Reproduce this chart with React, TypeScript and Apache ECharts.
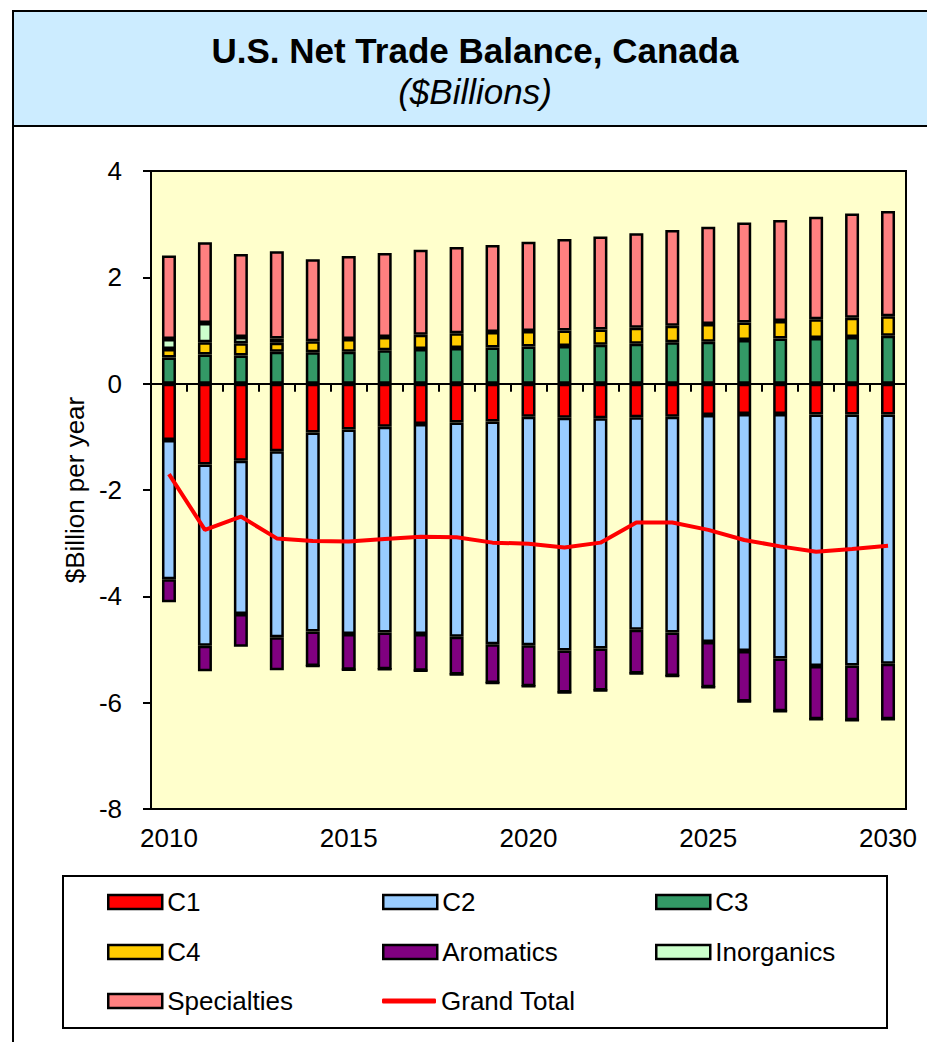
import React, { useEffect, useRef } from "react";
import * as echarts from "echarts";

const years = [
  "2010", "2011", "2012", "2013", "2014", "2015", "2016", "2017", "2018", "2019", "2020",
  "2021", "2022", "2023", "2024", "2025", "2026", "2027", "2028", "2029", "2030",
];

const c1 = [-1.06, -1.52, -1.45, -1.27, -0.92, -0.86, -0.81, -0.76, -0.73, -0.71, -0.62, -0.64, -0.65, -0.63, -0.62, -0.59, -0.57, -0.57, -0.58, -0.58, -0.58];
const c2 = [-2.62, -3.41, -2.88, -3.5, -3.74, -3.85, -3.87, -3.95, -4.03, -4.19, -4.3, -4.38, -4.33, -4.0, -4.06, -4.27, -4.46, -4.6, -4.73, -4.72, -4.69];
const c3 = [0.49, 0.55, 0.53, 0.6, 0.59, 0.6, 0.63, 0.65, 0.67, 0.68, 0.7, 0.71, 0.73, 0.75, 0.78, 0.79, 0.82, 0.85, 0.86, 0.88, 0.9];
const c4 = [0.16, 0.23, 0.23, 0.17, 0.21, 0.24, 0.25, 0.27, 0.28, 0.29, 0.29, 0.29, 0.29, 0.3, 0.31, 0.33, 0.33, 0.33, 0.35, 0.36, 0.37];
const aromatics = [-0.43, -0.48, -0.62, -0.62, -0.65, -0.67, -0.69, -0.69, -0.71, -0.73, -0.77, -0.79, -0.79, -0.82, -0.82, -0.85, -0.95, -0.99, -1.0, -1.03, -1.04];
const inorganics = [0.19, 0.36, 0.12, 0.08, 0, 0, 0, 0, 0, 0, 0, 0, 0, 0, 0, 0, 0, 0, 0, 0, 0];
const specialties = [1.57, 1.52, 1.56, 1.64, 1.54, 1.56, 1.58, 1.6, 1.62, 1.64, 1.68, 1.72, 1.75, 1.78, 1.8, 1.83, 1.88, 1.9, 1.93, 1.96, 1.98];
const grandTotal = [-1.7, -2.75, -2.5, -2.91, -2.96, -2.97, -2.92, -2.88, -2.89, -2.99, -3.01, -3.08, -2.99, -2.61, -2.61, -2.75, -2.94, -3.06, -3.16, -3.11, -3.05];

const yMin = -8;
const yMax = 4;
const yStep = 2;

const FONT = "'Liberation Sans', Arial, sans-serif";

export default function App() {
  const ref = useRef<HTMLDivElement>(null);

  useEffect(() => {
    document.body.style.margin = "0";
    const chart = echarts.init(ref.current!, null, { renderer: "svg" });

    const bar = (name: string, data: number[], color: string) => ({
      name,
      type: "bar",
      stack: "total",
      data,
      barWidth: 14,
      itemStyle: { color, borderColor: "#000", borderWidth: 2.5 },
      emphasis: { disabled: true },
    });

    const legendItems: [string, number, number, boolean][] = [
      ["C1", 107, 889, true],
      ["C2", 382, 889, true],
      ["C3", 655, 889, true],
      ["C4", 107, 939, true],
      ["Aromatics", 382, 939, true],
      ["Inorganics", 655, 939, true],
      ["Specialties", 107, 988, true],
      ["Grand Total", 382, 988, false],
    ];

    const legends = legendItems.map(([name, left, top, isBar]) => ({
      data: [{ name, icon: isBar ? "rect" : "roundRect" }],
      left,
      top,
      padding: 0,
      itemWidth: 54,
      itemHeight: isBar ? 14 : 5,
      selectedMode: false,
      textStyle: { fontSize: 26, fontFamily: FONT, color: "#000" },
      ...(isBar
        ? { itemStyle: { borderColor: "#000", borderWidth: 2.5 } }
        : { itemStyle: { color: "#FF0000", borderWidth: 0 } }),
    }));

    chart.setOption({
      animation: false,
      backgroundColor: "#fff",
      textStyle: { fontFamily: FONT },
      graphic: [
        { type: "line", shape: { x1: 13, y1: 10, x2: 13, y2: 1042 }, style: { stroke: "#000", lineWidth: 2 }, z: 0 },
        { type: "rect", shape: { x: 13, y: 11, width: 960, height: 115 }, style: { fill: "#CCECFF", stroke: "#000", lineWidth: 2 }, z: 0 },
        { type: "text", x: 475, y: 50, style: { text: "U.S. Net Trade Balance, Canada", fontSize: 35, fontWeight: "bold", fontFamily: FONT, fill: "#000", align: "center", verticalAlign: "middle" }, z: 1 },
        { type: "text", x: 475, y: 91, style: { text: "($Billions)", fontSize: 35, fontStyle: "italic", fontFamily: FONT, fill: "#000", align: "center", verticalAlign: "middle" }, z: 1 },
        { type: "rect", shape: { x: 63, y: 876, width: 824, height: 152 }, style: { fill: "#fff", stroke: "#000", lineWidth: 2 }, z: 0 },
      ],
      legend: legends,
      grid: {
        left: 151,
        top: 171,
        width: 755,
        height: 638,
        show: true,
        backgroundColor: "#FFFFCC",
        borderColor: "#000",
        borderWidth: 2,
      },
      xAxis: [
        {
          type: "category",
          data: years,
          axisLine: { onZero: true, lineStyle: { color: "#000", width: 2 } },
          axisTick: { show: true, interval: 0, length: 8, lineStyle: { color: "#000", width: 2 } },
          axisLabel: { show: false },
          splitLine: { show: false },
        },
        {
          type: "category",
          data: years,
          position: "bottom",
          axisLine: { show: false, onZero: false },
          axisTick: { show: false },
          axisLabel: { interval: 4, fontSize: 26, color: "#000", fontFamily: FONT, margin: 16 },
          splitLine: { show: false },
        },
      ],
      yAxis: {
        type: "value",
        min: yMin,
        max: yMax,
        interval: yStep,
        name: "$Billion per year",
        nameLocation: "middle",
        nameGap: 63,
        nameRotate: 90,
        nameTextStyle: { fontSize: 26, color: "#000", fontFamily: FONT },
        axisLine: { show: true, lineStyle: { color: "#000", width: 2 } },
        axisTick: { show: true, length: 8, lineStyle: { color: "#000", width: 2 } },
        axisLabel: { fontSize: 26, color: "#000", fontFamily: FONT, margin: 29 },
        splitLine: { show: false },
      },
      series: [
        bar("C1", c1, "#FF0000"),
        bar("C2", c2, "#99CCFF"),
        bar("C3", c3, "#339966"),
        bar("C4", c4, "#FFCC00"),
        bar("Aromatics", aromatics, "#800080"),
        bar("Inorganics", inorganics, "#CCFFCC"),
        bar("Specialties", specialties, "#FF8080"),
        {
          name: "Grand Total",
          type: "line",
          data: grandTotal,
          symbol: "none",
          showSymbol: false,
          lineStyle: { color: "#FF0000", width: 4 },
          itemStyle: { color: "#FF0000" },
          z: 5,
          emphasis: { disabled: true },
        },
      ],
    });

    return () => chart.dispose();
  }, []);

  return <div ref={ref} style={{ width: 927, height: 1042 }} />;
}
